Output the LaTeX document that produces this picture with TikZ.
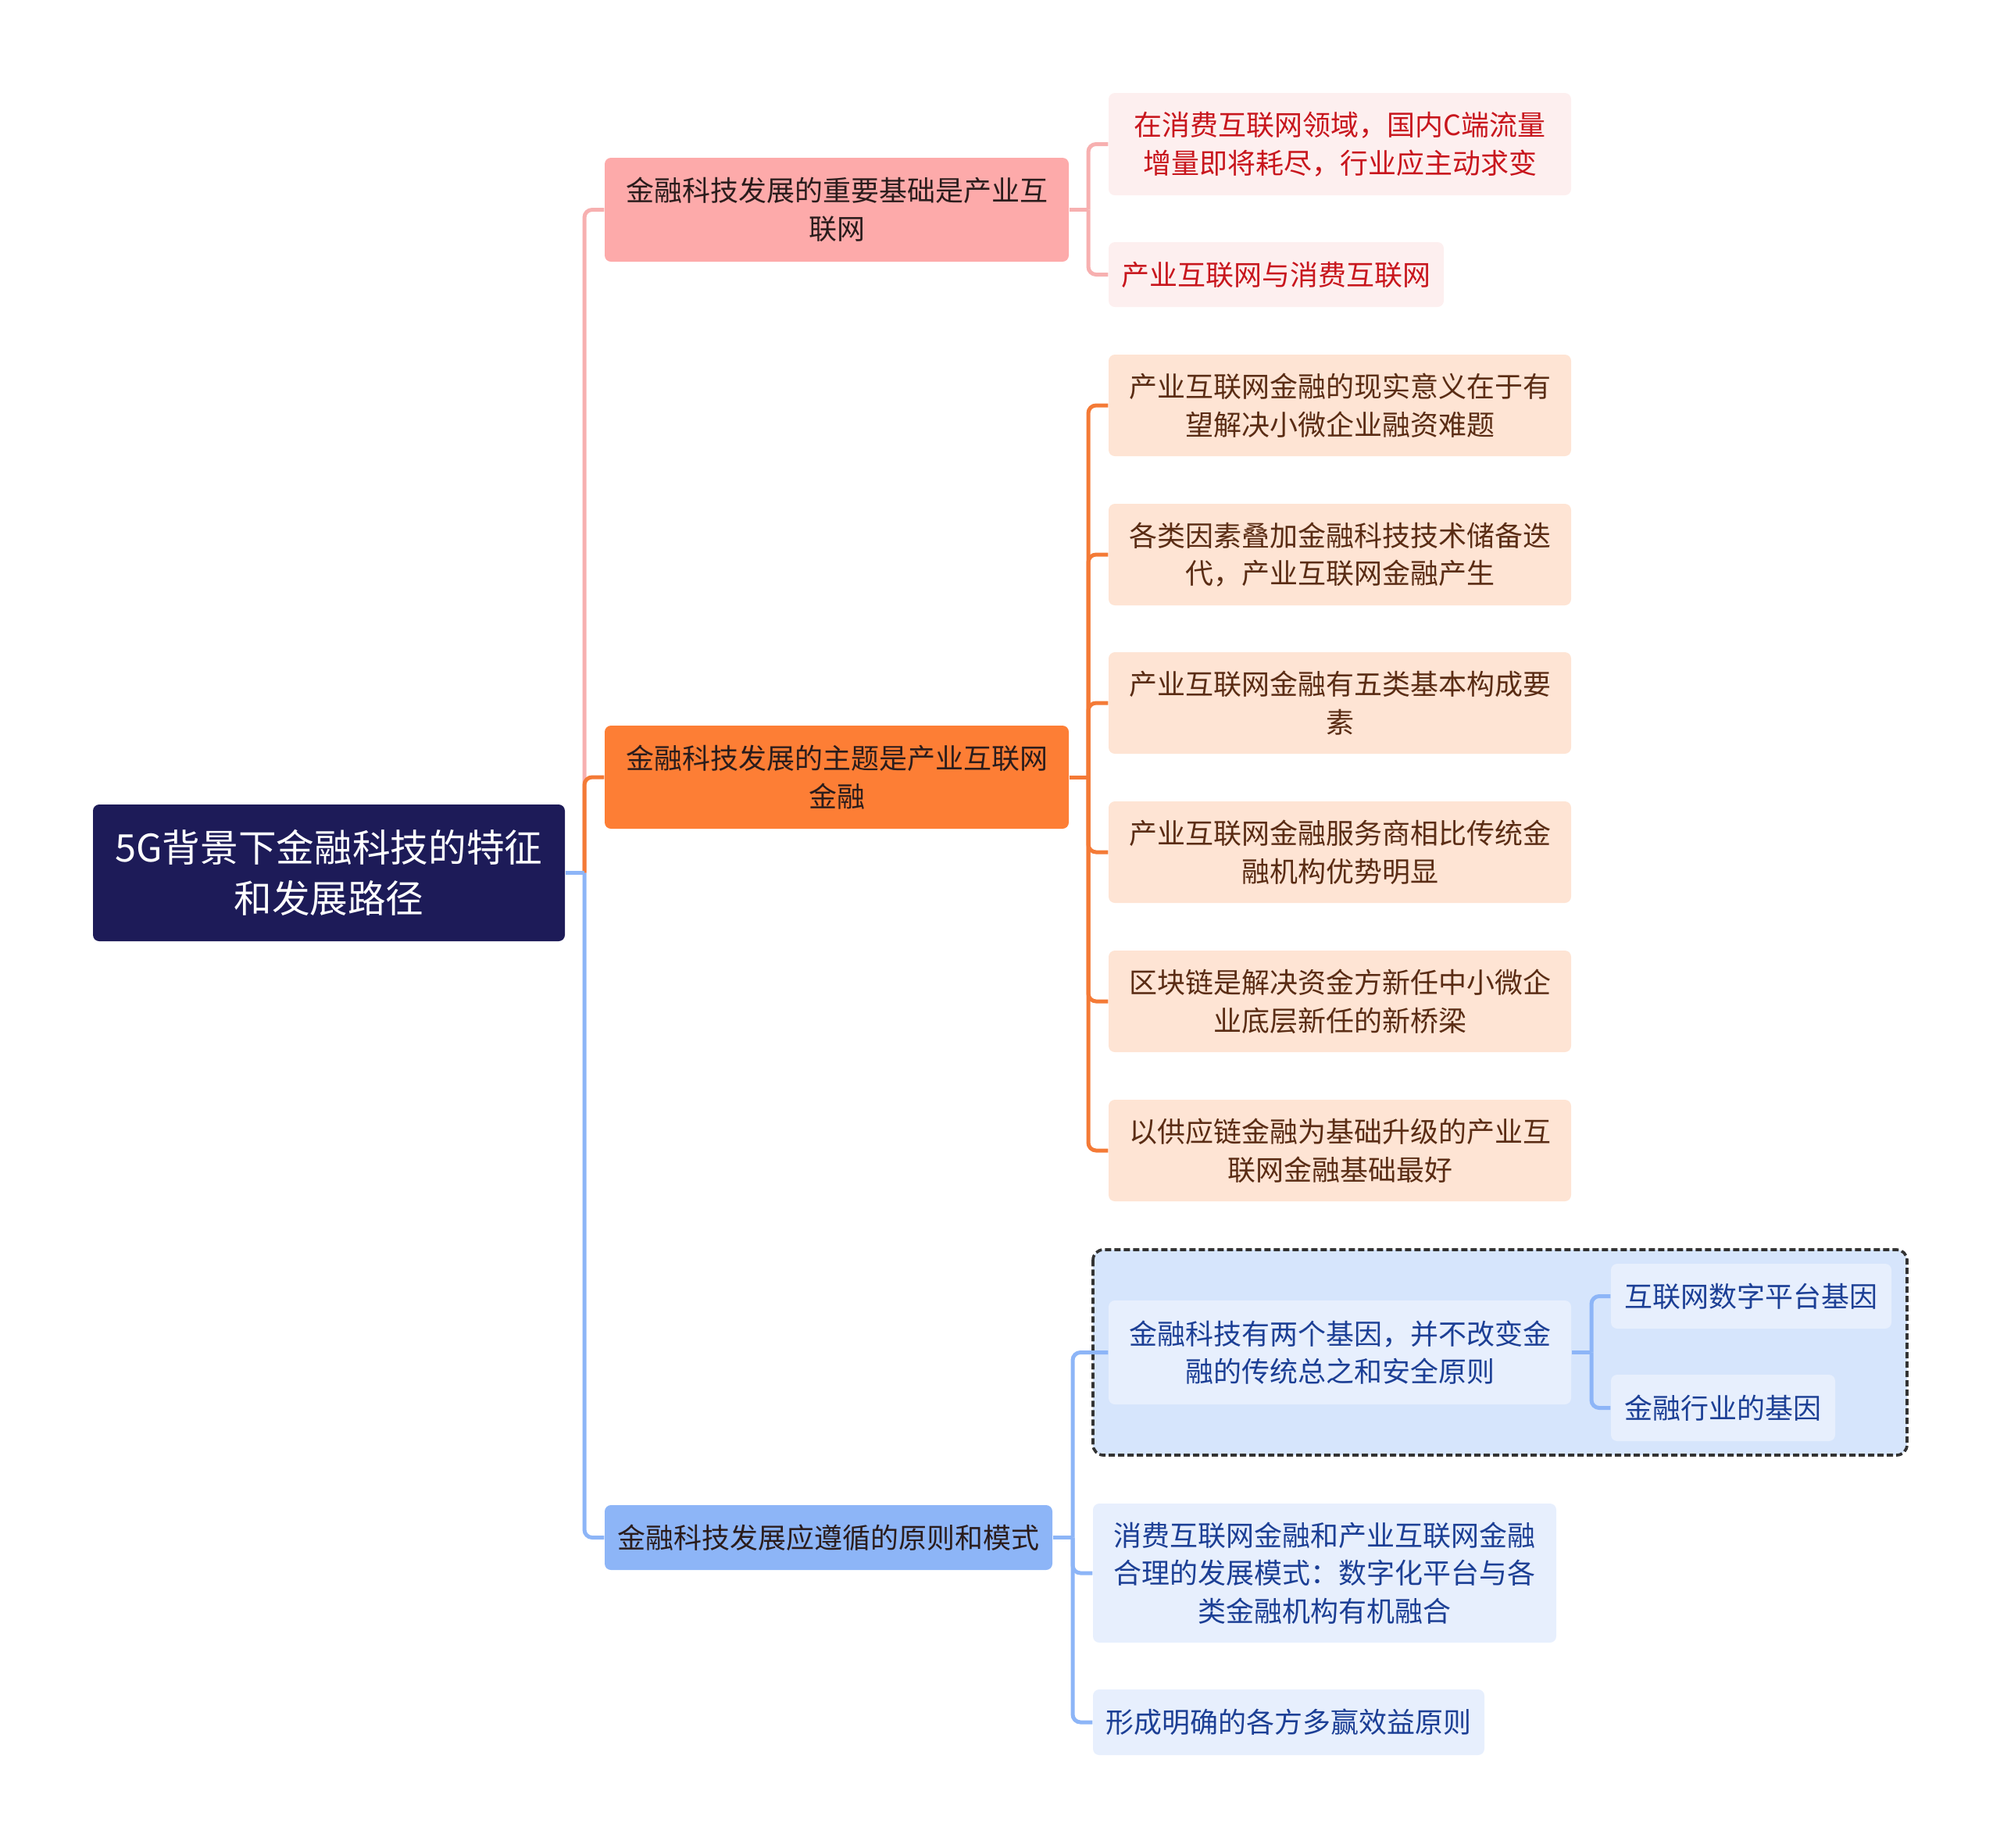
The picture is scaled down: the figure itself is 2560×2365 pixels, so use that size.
\documentclass[tikz,border=0pt]{standalone}
\usepackage{fontspec}
\setmainfont{Noto Sans CJK SC}
\definecolor{rootfill}{HTML}{1D1B58}
\definecolor{pinkfill}{HTML}{FDAAAA}
\definecolor{pinkline}{HTML}{F7B0B0}
\definecolor{pinkleaf}{HTML}{FDEFEF}
\definecolor{pinktext}{HTML}{C8161D}
\definecolor{orangefill}{HTML}{FD7E35}
\definecolor{orangeline}{HTML}{F47A36}
\definecolor{orangeleaf}{HTML}{FEE4D4}
\definecolor{orangetext}{HTML}{5A2C14}
\definecolor{bluefill}{HTML}{8DB5F7}
\definecolor{blueline}{HTML}{8DB5F7}
\definecolor{blueleaf}{HTML}{E7EFFD}
\definecolor{bluegroup}{HTML}{D6E5FC}
\definecolor{bluetext}{HTML}{1C3F95}
\definecolor{darktext}{HTML}{2A1C1C}
\begin{document}
\begin{tikzpicture}[x=0.3pt,y=-0.3pt]
\tikzset{
  basebox/.style={rectangle, rounded corners=2.4pt, inner sep=0pt, align=center,
    font=\fontsize{10.8pt}{14.6pt}\selectfont},
  rootbox/.style={basebox, fill=rootfill, text=white, font=\fontsize{14.6pt}{19.5pt}\selectfont},
  pinkmain/.style={basebox, fill=pinkfill, text=darktext},
  pinkkid/.style={basebox, fill=pinkleaf, text=pinktext},
  orangemain/.style={basebox, fill=orangefill, text=darktext},
  orangekid/.style={basebox, fill=orangeleaf, text=orangetext},
  bluemain/.style={basebox, fill=bluefill, text=darktext},
  bluekid/.style={basebox, fill=blueleaf, text=bluetext},
  link/.style={line width=1.5pt, rounded corners=3pt},
}
\useasboundingbox (0,0) rectangle (2560,2365);

% group box
\draw[fill=bluegroup, draw=black!80, dash pattern=on 2.4pt off 1.2pt, line width=1.1pt, rounded corners=4pt] (1399,1600) rectangle (2441,1863);

% nodes
\node[rootbox, minimum width=181.2pt, minimum height=52.5pt] (root) at (421,1117.5) {5G背景下金融科技的特征\\和发展路径};

\node[pinkmain, minimum width=178.2pt, minimum height=39.9pt] (A) at (1071,268.5) {金融科技发展的重要基础是产业互\\联网};
\node[orangemain, minimum width=178.2pt, minimum height=39.6pt] (B) at (1071,995) {金融科技发展的主题是产业互联网\\金融};
\node[bluemain, minimum width=171.9pt, minimum height=24.9pt] (C) at (1060.5,1968.5) {金融科技发展应遵循的原则和模式};

\node[pinkkid, minimum width=177.6pt, minimum height=39.3pt] (A1) at (1715,184.5) {在消费互联网领域，国内C端流量\\增量即将耗尽，行业应主动求变};
\node[pinkkid, minimum width=128.7pt, minimum height=24.9pt] (A2) at (1633.5,351.5) {产业互联网与消费互联网};

\node[orangekid, minimum width=177.6pt, minimum height=39pt] (B1) at (1715,519) {产业互联网金融的现实意义在于有\\望解决小微企业融资难题};
\node[orangekid, minimum width=177.6pt, minimum height=39pt] (B2) at (1715,710) {各类因素叠加金融科技技术储备迭\\代，产业互联网金融产生};
\node[orangekid, minimum width=177.6pt, minimum height=39pt] (B3) at (1715,900) {产业互联网金融有五类基本构成要\\素};
\node[orangekid, minimum width=177.6pt, minimum height=39pt] (B4) at (1715,1091) {产业互联网金融服务商相比传统金\\融机构优势明显};
\node[orangekid, minimum width=177.6pt, minimum height=39pt] (B5) at (1715,1282) {区块链是解决资金方新任中小微企\\业底层新任的新桥梁};
\node[orangekid, minimum width=177.6pt, minimum height=39pt] (B6) at (1715,1473) {以供应链金融为基础升级的产业互\\联网金融基础最好};

\node[bluekid, minimum width=177.6pt, minimum height=39.9pt] (C1) at (1715,1731.5) {金融科技有两个基因，并不改变金\\融的传统总之和安全原则};
\node[bluekid, minimum width=107.7pt, minimum height=24.9pt] (C1a) at (2241.5,1659.5) {互联网数字平台基因};
\node[bluekid, minimum width=86.1pt, minimum height=25.5pt] (C1b) at (2205.5,1802.5) {金融行业的基因};
\node[bluekid, minimum width=177.9pt, minimum height=53.4pt] (C2) at (1695.5,2014) {消费互联网金融和产业互联网金融\\合理的发展模式：数字化平台与各\\类金融机构有机融合};
\node[bluekid, minimum width=150.3pt, minimum height=25.2pt] (C3) at (1649.5,2205) {形成明确的各方多赢效益原则};

% trunk coordinates
\coordinate (t0) at (748,1117.5);
\coordinate (tA) at (1393,268.5);
\coordinate (tB) at (1393,995);
\coordinate (tC) at (1373,1968.5);
\coordinate (tC1) at (2037,1731.5);

% root connectors
\draw[link, pinkline] (t0) |- (A.west);
\draw[link, orangeline] (t0) |- (B.west);
\draw[link, blueline] (t0) |- (C.west);
\draw[line width=1.5pt, blueline] (root.east) -- (t0);

% A children
\draw[line width=1.5pt, pinkline] (A.east) -- (tA);
\draw[link, pinkline] (tA) |- (A1.west);
\draw[link, pinkline] (tA) |- (A2.west);

% B children
\draw[line width=1.5pt, orangeline] (B.east) -- (tB);
\foreach \k in {B1,B2,B3,B4,B5,B6}{
  \draw[link, orangeline] (tB) |- (\k.west);
}

% C children
\draw[line width=1.5pt, blueline] (C.east) -- (tC);
\foreach \k in {C1,C2,C3}{
  \draw[link, blueline] (tC) |- (\k.west);
}

% C1 children
\draw[line width=1.5pt, blueline] (C1.east) -- (tC1);
\draw[link, blueline] (tC1) |- (C1a.west);
\draw[link, blueline] (tC1) |- (C1b.west);
\end{tikzpicture}
\end{document}
